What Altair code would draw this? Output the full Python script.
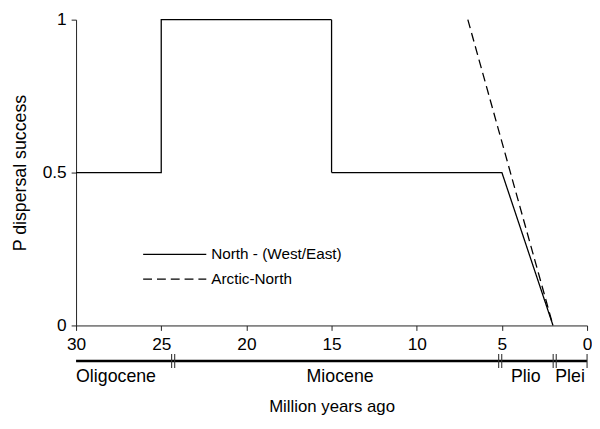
import altair as alt
import pandas as pd

# ---- data ----
series_names = ["North - (West/East)", "Arctic-North"]
north_x = [30, 25, 25, 15, 15, 5, 2]
north_y = [0.5, 0.5, 1, 1, 0.5, 0.5, 0]
arctic_x = [7, 2]
arctic_y = [1, 0]
x_ticks = [30, 25, 20, 15, 10, 5, 0]
y_ticks = [0, 0.5, 1]
epoch_names = ["Oligocene", "Miocene", "Plio", "Plei"]
epoch_label_x = [30, 14.5, 3.6, 1.0]
boundaries = [24.3, 5.1, 1.9]
timeline_start, timeline_end = 30, 0

FONT = "Liberation Sans"
FS = 17.5
W = 518

rows = []
for i, (x, y) in enumerate(zip(north_x, north_y)):
    rows.append({"series": series_names[0], "i": i, "x": x, "y": y})
for i, (x, y) in enumerate(zip(arctic_x, arctic_y)):
    rows.append({"series": series_names[1], "i": i, "x": x, "y": y})
lines_df = pd.DataFrame(rows)

xscale = alt.Scale(domain=[30, 0], nice=False, zero=False)

main = alt.Chart(lines_df).mark_line(color="black", strokeWidth=1.3).encode(
    x=alt.X("x:Q", scale=xscale,
            axis=alt.Axis(values=x_ticks, title=None, labelFontSize=FS, tickSize=5,
                          labelPadding=5.5, grid=False, domainColor="#222", tickColor="#222",
                          labelColor="black", labelFont=FONT, format="d", labelFlush=False)),
    y=alt.Y("y:Q", scale=alt.Scale(domain=[0, 1], nice=False),
            axis=alt.Axis(values=y_ticks, title="P dispersal success", titleFontSize=18,
                          titleFontWeight="normal", titleFont=FONT, titleColor="black",
                          labelFontSize=FS, labelFont=FONT, labelColor="black", tickSize=5,
                          labelPadding=5, titlePadding=13, grid=False, format="~g",
                          labelFlush=False, domainColor="#222", tickColor="#222")),
    strokeDash=alt.StrokeDash("series:N",
                              scale=alt.Scale(domain=series_names, range=[[1, 0], [9, 5]]),
                              legend=alt.Legend(title=None, orient="none", legendX=91, legendY=229,
                                                symbolType="M-4,0H4", symbolSize=256,
                                                symbolStrokeWidth=1.2, symbolStrokeColor="black",
                                                labelOffset=28, labelFontSize=15.5, labelFont=FONT,
                                                labelColor="black", rowPadding=7, padding=0)),
    order="i:Q",
).properties(width=W, height=310)

# ---- timeline panel ----
TL_H = 31
bar_df = pd.DataFrame({"x": [timeline_start], "x2": [timeline_end], "y": [1]})
tick_rows = []
for b in boundaries:
    tick_rows.append({"x": b + 0.09})
    tick_rows.append({"x": b - 0.09})
tick_rows.append({"x": timeline_end})
ticks_df = pd.DataFrame(tick_rows)
labels_df = pd.DataFrame({"name": epoch_names, "x": epoch_label_x, "y": [0.46] * 4})

xaxis2 = alt.Axis(title="Million years ago", labels=False, ticks=False, domain=False, grid=False,
                  titleFontSize=17, titleFontWeight="normal", titleFont=FONT, titleColor="black",
                  titlePadding=7.5)
yscale2 = alt.Scale(domain=[0, 1])

bar = alt.Chart(bar_df).mark_rule(color="black", strokeWidth=2.4).encode(
    x=alt.X("x:Q", scale=xscale, axis=xaxis2), x2="x2:Q",
    y=alt.Y("y:Q", scale=yscale2, axis=None))
ticks = alt.Chart(ticks_df).mark_rule(color="#333", strokeWidth=1.1).encode(
    x=alt.X("x:Q", scale=xscale), y=alt.datum(1 + 7 / TL_H), y2=alt.datum(1 - 7 / TL_H))
lab_left = alt.Chart(labels_df[labels_df.name == "Oligocene"]).mark_text(
    align="left", fontSize=18, font=FONT, color="black").encode(
    x=alt.X("x:Q", scale=xscale), y=alt.Y("y:Q", scale=yscale2), text="name:N")
lab_center = alt.Chart(labels_df[labels_df.name != "Oligocene"]).mark_text(
    align="center", fontSize=18, font=FONT, color="black").encode(
    x=alt.X("x:Q", scale=xscale), y=alt.Y("y:Q", scale=yscale2), text="name:N")

timeline = alt.layer(bar, ticks, lab_left, lab_center).properties(width=W, height=TL_H)

chart = alt.vconcat(main, timeline, spacing=0).properties(
    padding={"left": 3, "top": 0, "right": 0, "bottom": 0}
).configure_view(stroke=None)

chart.save("out.html", embed_options={"renderer": "svg", "actions": False})
